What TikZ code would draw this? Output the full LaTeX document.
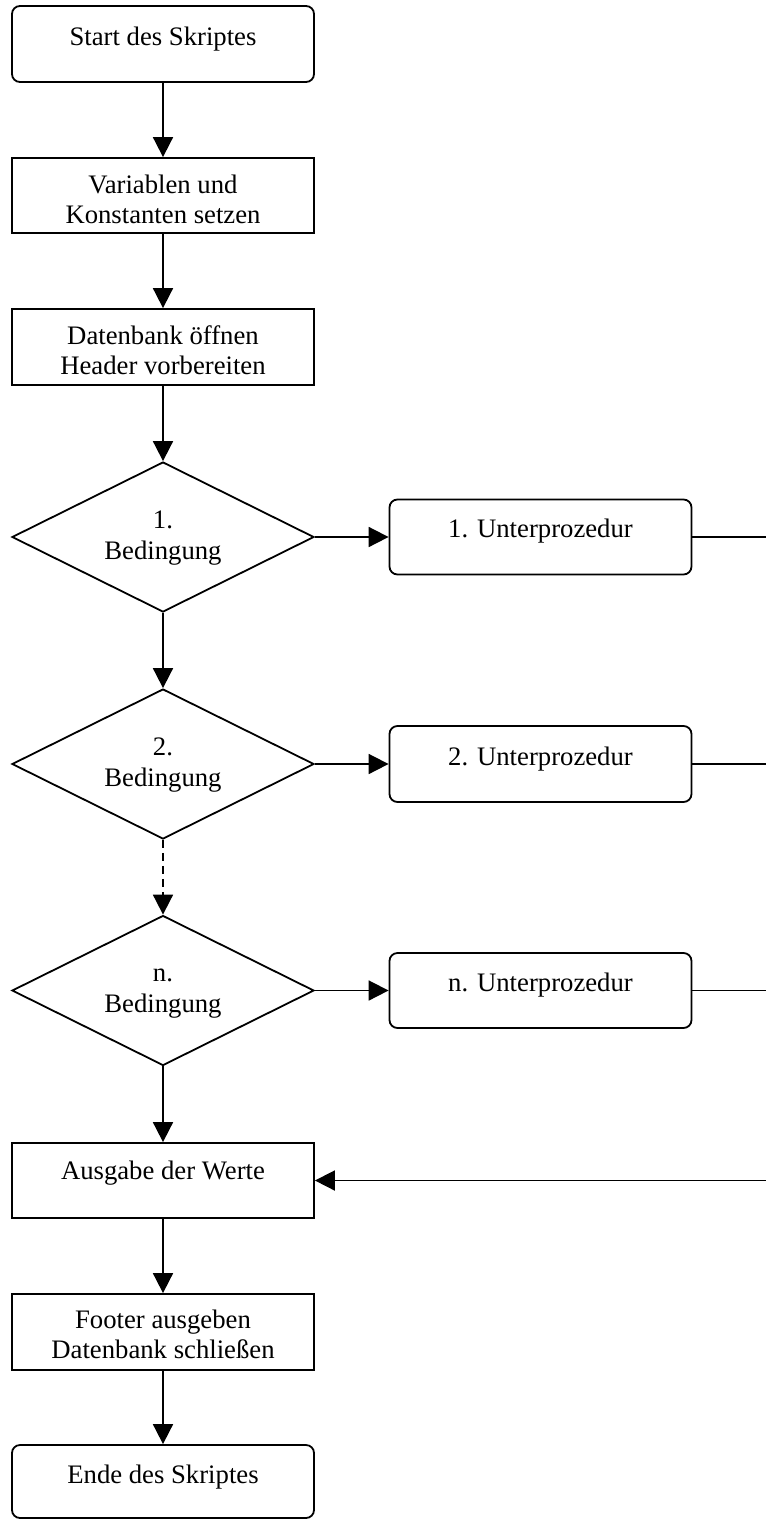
\documentclass[tikz,border=0pt]{standalone}
\usepackage{fontspec}
\setmainfont{Liberation Serif}
\usetikzlibrary{shapes.geometric,arrows.meta}
\newcommand\lbl{\fontsize{26.7}{30}\selectfont}

\tikzset{
  base/.style={draw, line width=1.8pt, inner sep=0pt, fill=white},
  roundbox/.style={base, rectangle, rounded corners=8pt, minimum width=302pt},
  plainbox/.style={base, rectangle, minimum width=302pt},
  decision/.style={base, diamond, minimum width=302pt, minimum height=150pt},
  txt/.style={anchor=base, font=\lbl, inner sep=0pt},
  flow/.style={line width=1.8pt, -{Triangle[width=20pt,length=20pt]}},
  link/.style={line width=1.8pt},
}

\begin{document}
\begin{tikzpicture}[x=1pt, y=-1pt]
  \useasboundingbox (0,0) rectangle (766,1519);

  % main column
  \node[roundbox, minimum height=76pt] (start) at (163,44) {};
  \node[plainbox, minimum height=75pt] (vars)  at (163,195.5) {};
  \node[plainbox, minimum height=76pt] (db)    at (163,347) {};
  \node[decision] (d1) at (163,537) {};
  \node[decision] (d2) at (163,764) {};
  \node[decision] (dn) at (163,990.5) {};
  \node[plainbox, minimum height=75pt] (ausg)  at (163,1180.5) {};
  \node[plainbox, minimum height=76pt] (foot)  at (163,1332) {};
  \node[roundbox, minimum height=73pt] (ende)  at (163,1481.5) {};

  % sub procedures
  \node[roundbox, minimum height=75pt] (sub1) at (540.5,537) {};
  \node[roundbox, minimum height=76pt] (sub2) at (540.5,764) {};
  \node[roundbox, minimum height=75pt] (subn) at (540.5,990.5) {};

  % labels
  \node[txt] (t-start)  at (163,45)   {Start des Skriptes};
  \node[txt] (t-vars1)  at (163,193)  {Variablen und};
  \node[txt] (t-vars2)  at (163,223)  {Konstanten setzen};
  \node[txt] (t-db1)    at (163,344)  {Datenbank öffnen};
  \node[txt] (t-db2)    at (163,374)  {Header vorbereiten};
  \node[txt] (t-d1a)    at (163,528)  {1.};
  \node[txt] (t-d1b)    at (163,559)  {Bedingung};
  \node[txt] (t-d2a)    at (163,755)  {2.};
  \node[txt] (t-d2b)    at (163,786)  {Bedingung};
  \node[txt] (t-dna)    at (163,981.5){n.};
  \node[txt] (t-dnb)    at (163,1012.5){Bedingung};
  \node[txt] (t-sub1)   at (540.5,537){1. Unterprozedur};
  \node[txt] (t-sub2)   at (540.5,765){2. Unterprozedur};
  \node[txt] (t-subn)   at (540.5,991){n. Unterprozedur};
  \node[txt] (t-ausg)   at (163,1179) {Ausgabe der Werte};
  \node[txt] (t-foot1)  at (163,1328) {Footer ausgeben};
  \node[txt] (t-foot2)  at (163,1358) {Datenbank schließen};
  \node[txt] (t-ende)   at (163,1483) {Ende des Skriptes};

  % return path at the right edge
  \coordinate (r1) at (766,537);
  \coordinate (r2) at (766,764);
  \coordinate (rn) at (766,990.5);
  \coordinate (rback) at (766,1180.5);

  % connectors
  \draw[flow] (start) -- (vars);
  \draw[flow] (vars) -- (db);
  \draw[flow] (db) -- (d1);
  \draw[flow] (d1) -- (d2);
  \draw[flow, dash pattern=on 8pt off 5pt] (d2) -- (dn);
  \draw[flow] (dn) -- (ausg);
  \draw[flow] (ausg) -- (foot);
  \draw[flow] (foot) -- (ende);

  \draw[flow] (d1.east) -- (sub1.west);
  \draw[flow] (d2.east) -- (sub2.west);
  \draw[flow] (dn.east) -- (subn.west);

  \draw[link] (sub1.east) -- (r1);
  \draw[link] (sub2.east) -- (r2);
  \draw[link] (subn.east) -- (rn);
  \draw[flow] (rback) -- (ausg.east);
\end{tikzpicture}
\end{document}
